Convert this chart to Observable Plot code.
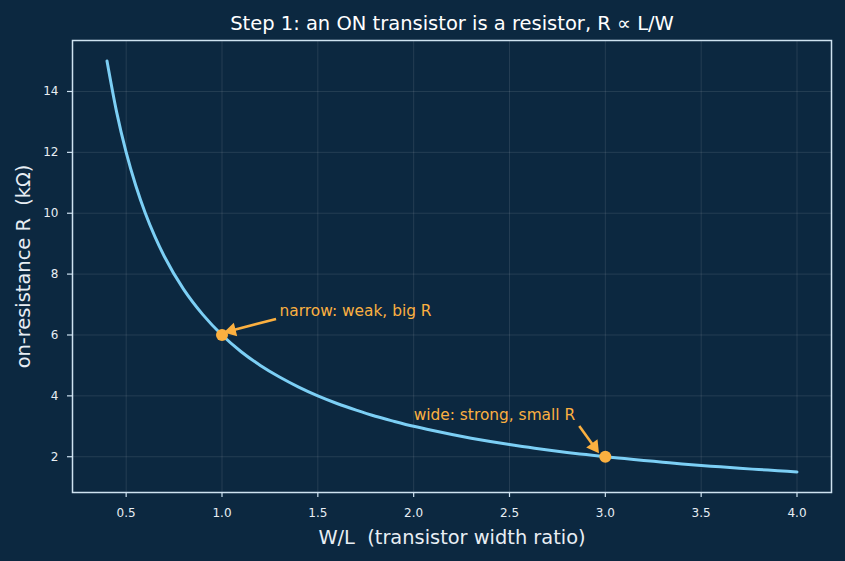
<!DOCTYPE html>
<html>
<head>
<meta charset="utf-8">
<script src="https://cdn.jsdelivr.net/npm/d3@7"></script>
<script src="https://cdn.jsdelivr.net/npm/@observablehq/plot@0.6"></script>
<style>
  html, body { margin: 0; padding: 0; background: #0c2840; }
  #chart { width: 845px; height: 561px; }
</style>
</head>
<body>
<div id="chart"></div>
<script>
// W/L values and on-resistance
const wl = [0.4,0.45,0.5,0.55,0.6,0.65,0.7,0.8,0.9,1.0,1.1,1.2,1.3,1.4,1.5,1.6,1.7,1.8,1.9,2.0,2.1,2.2,2.3,2.4,2.5,2.6,2.7,2.8,2.9,3.0,3.1,3.2,3.3,3.4,3.5,3.6,3.7,3.8,3.9,4.0];
const rOn = [15.0,13.33,12.0,10.91,10.0,9.23,8.57,7.5,6.67,6.0,5.45,5.0,4.62,4.29,4.0,3.75,3.53,3.33,3.16,3.0,2.86,2.73,2.61,2.5,2.4,2.31,2.22,2.14,2.07,2.0,1.94,1.88,1.82,1.76,1.71,1.67,1.62,1.58,1.54,1.5];

// highlighted points
const ptX = [1.0, 3.0];
const ptY = [6.0, 2.0];

// annotations
const noteText = ["narrow: weak, big R", "wide: strong, small R"];
const noteX = [1.3, 2.0];
const noteY = [6.79, 3.38];
const arrowX1 = [1.282, 2.864];
const arrowY1 = [6.525, 3.007];
const arrowHX = [1.05, 2.942];
const arrowHY = [6.15, 2.33];
const arrowRot = [-104, 144];

const xTicks = [0.5,1.0,1.5,2.0,2.5,3.0,3.5,4.0];
const yTicks = [2,4,6,8,10,12,14];

const titleText = "Step 1: an ON transistor is a resistor, R \u221D L/W";
const xLabel = "W/L  (transistor width ratio)";
const yLabel = "on-resistance R  (k\u03A9)";

const curve = wl.map((x, i) => ({x, y: rOn[i]}));
const pts = ptX.map((x, i) => ({x, y: ptY[i]}));
const notes = noteText.map((t, i) => ({t, x: noteX[i], y: noteY[i], x1: arrowX1[i], y1: arrowY1[i], hx: arrowHX[i], hy: arrowHY[i], rot: arrowRot[i]}));

const BG = "#0c2840";
const FG = "#e8eef4";
const LINE = "#7ccff5";
const ORANGE = "#fbb040";
const FRAME = "#cfe3f1";

const chart = Plot.plot({
  width: 845,
  height: 561,
  marginLeft: 72,
  marginRight: 14,
  marginTop: 40,
  marginBottom: 69,
  style: {background: BG, color: FG, fontFamily: "DejaVu Sans", fontSize: "12px"},
  x: {domain: [0.22, 4.18], label: null},
  y: {domain: [0.825, 15.675], label: null},
  marks: [
    Plot.gridX(xTicks, {stroke: "#ffffff", strokeOpacity: 0.13, strokeWidth: 0.8}),
    Plot.gridY(yTicks, {stroke: "#ffffff", strokeOpacity: 0.13, strokeWidth: 0.8}),
    Plot.axisX({ticks: xTicks, tickFormat: d3.format(".1f"), tickSize: 5, tickPadding: 11, stroke: FRAME, strokeWidth: 1.2, fill: FG, label: null, fontSize: 12}),
    Plot.axisY({ticks: yTicks, tickSize: 5, tickPadding: 9, stroke: FRAME, strokeWidth: 1.2, fill: FG, label: null, fontSize: 12}),
    Plot.frame({stroke: FRAME, strokeWidth: 1.5}),
    Plot.line(curve, {x: "x", y: "y", stroke: LINE, strokeWidth: 3, curve: "monotone-x"}),
    Plot.link(notes, {x1: "x1", y1: "y1", x2: "hx", y2: "hy", stroke: ORANGE, strokeWidth: 2.6}),
    Plot.dot(notes, {x: "hx", y: "hy", symbol: "triangle", r: 5.2, fill: ORANGE, rotate: "rot"}),
    Plot.dot(pts, {x: "x", y: "y", r: 6, fill: ORANGE}),
    Plot.text(notes, {x: "x", y: "y", text: "t", fill: ORANGE, textAnchor: "start", fontSize: 15.4}),
    Plot.text([titleText], {frameAnchor: "top", dy: -24, fill: "#ffffff", fontSize: 19.5}),
    Plot.text([xLabel], {frameAnchor: "bottom", dy: 51, fill: FG, fontSize: 19.4}),
    Plot.text([yLabel], {frameAnchor: "left", textAnchor: "middle", dx: -49, rotate: -90, fill: FG, fontSize: 19.4})
  ]
});
document.getElementById("chart").append(chart);
</script>
</body>
</html>
